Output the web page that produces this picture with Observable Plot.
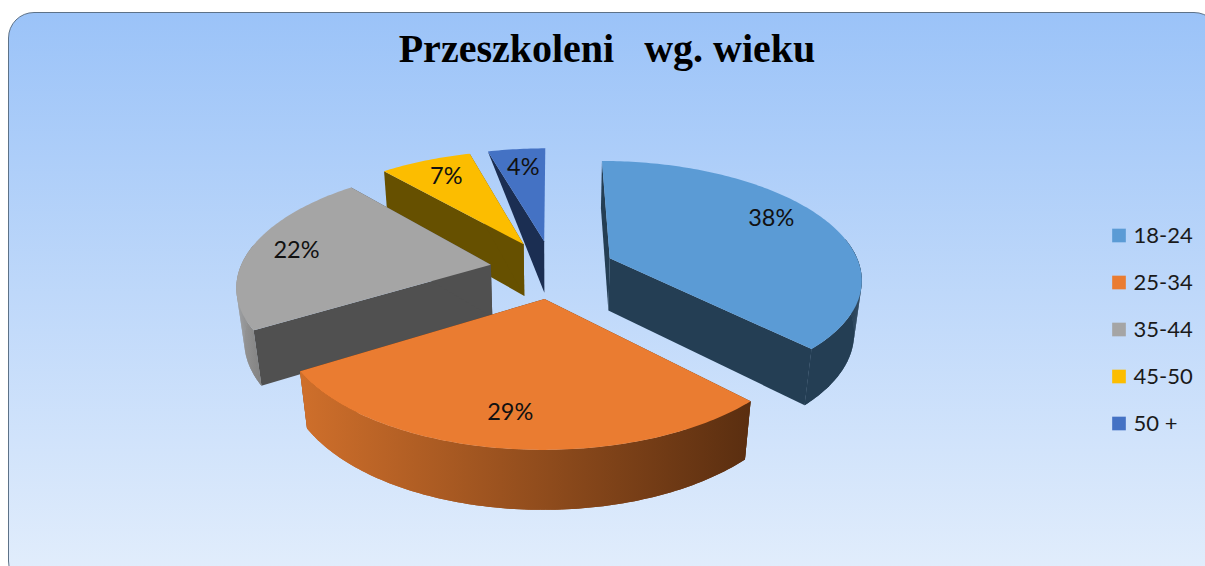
<!DOCTYPE html>
<html lang="pl">
<head>
<meta charset="utf-8">
<script src="https://cdn.jsdelivr.net/npm/d3@7"></script>
<script src="https://cdn.jsdelivr.net/npm/@observablehq/plot@0.6"></script>
<style>
html,body{margin:0;padding:0;background:#fff;overflow:hidden}
#page{position:relative;width:1205px;height:566px;overflow:hidden}
#panel{position:absolute;left:8px;top:12px;width:1212px;height:575px;box-sizing:border-box;border:1.5px solid #5d7288;border-radius:26px;
background:linear-gradient(180deg,#9bc3f8 0%,#e3eefc 100%)}
#title{position:absolute;left:0;width:1214px;top:25px;text-align:center;font:bold 40px "Liberation Serif",serif;color:#000;white-space:pre}
#chart{position:absolute;left:0;top:0}
svg{background:transparent!important}
</style>
</head>
<body>
<div id="page"><div id="panel"></div><div id="title">Przeszkoleni   wg. wieku</div><div id="chart"></div></div>
<script>
// Data
const ages = ["18-24", "25-34", "35-44", "45-50", "50 +"];
const shares = [37.7, 28.5, 22.4, 7, 4.4];
const topColors = ["#5b9bd5", "#ea7c31", "#a5a5a5", "#fcbd00", "#4472c4"];
const wallColors = ["#243e54", "#5e3010", "#505050", "#665000", "#1b2e52"];
const rimFrom = ["#243e54", "#cf6f2b", "#9a9a9a", "#665000", "#1b2e52"];
const rimTo = ["#243e54", "#5a2e10", "#828282", "#665000", "#1b2e52"];
const labelTurn = [-6, 1, 0.5, 0.5, 0.5];
const labelReach = [0.8, 0.79, 0.81, 0.78, 0.78];
const paintOrder = [4, 3, 2, 0, 1];

// Tilted pie camera
const W = 1205, H = 566;
const cam = {cx: 552, cy: 268.5, R: 251, K: 116, D: 54, p: 0.16, q: 0.025};
const explode = 0.25;
const rad = (a) => a * Math.PI / 180;
function project(X, Y, Z) {
  const s = 1 / (1 + cam.p * Y + cam.q * Z);
  return {x: cam.cx + cam.R * X * s, y: cam.cy + (-cam.K * Y + cam.D * Z) * s};
}

const total = d3.sum(shares);
let acc = 0;
const slices = shares.map((v, i) => {
  const a0 = acc / total * 360;
  acc += v;
  const a1 = acc / total * 360;
  const mid = (a0 + a1) / 2;
  return {i, v, a0, a1, mid, ox: explode * Math.sin(rad(mid)), oy: explode * Math.cos(rad(mid))};
});
const rimPoint = (s, a, Z) => project(s.ox + Math.sin(rad(a)), s.oy + Math.cos(rad(a)), Z);
const apex = (s, Z) => project(s.ox, s.oy, Z);
const sweep = (a0, a1, step) => {
  const n = Math.max(2, Math.ceil((a1 - a0) / step));
  return d3.range(n + 1).map((k) => a0 + (a1 - a0) * k / n);
};

const polys = [];
const gradients = [];
let pid = 0;
const addPoly = (pts, c) => { pid++; pts.forEach((p) => polys.push({id: pid, x: p.x, y: p.y, c})); };

for (const idx of paintOrder) {
  const s = slices[idx];
  // flat side walls; the smallest slice's wall narrows to its back corner
  const backBottom = idx === 4 ? rimPoint(s, s.a0, 0) : rimPoint(s, s.a0, 1);
  addPoly([apex(s, 0), rimPoint(s, s.a0, 0), backBottom, apex(s, 1)], wallColors[idx]);
  if (idx !== 4) addPoly([apex(s, 0), rimPoint(s, s.a1, 0), rimPoint(s, s.a1, 1), apex(s, 1)], wallColors[idx]);
  // curved outer wall: only the part that faces the viewer
  const from = Math.max(s.a0, 80), to = Math.min(s.a1, 280);
  if (to > from) {
    const as = sweep(from, to, 1);
    const pts = [...as.map((a) => rimPoint(s, a, 0)), ...as.slice().reverse().map((a) => rimPoint(s, a, 1))];
    const xs = pts.map((p) => p.x);
    const id = "rim" + idx;
    gradients.push({id, x1: d3.min(xs), x2: d3.max(xs), left: rimFrom[idx], right: rimTo[idx]});
    const fill = `url(#${id})`;
    addPoly(pts, fill);
    // small quads fill the silhouette where the two rim arcs cross
    d3.pairs(as).forEach(([a, b]) => addPoly([rimPoint(s, a, 0), rimPoint(s, b, 0), rimPoint(s, b, 1), rimPoint(s, a, 1)], fill));
  }
  // top face
  addPoly([apex(s, 0), ...sweep(s.a0, s.a1, 1).map((a) => rimPoint(s, a, 0))], topColors[idx]);
}

const pieLabels = slices.map((s) => {
  const a = s.mid + labelTurn[s.i];
  const r = labelReach[s.i];
  const p = project(s.ox + r * Math.sin(rad(a)), s.oy + r * Math.cos(rad(a)), 0);
  return {x: p.x, y: p.y, text: Math.round(s.v) + "%"};
});
const legend = ages.map((a, i) => ({x: 1118.5, tx: 1133, y: 235 + 47 * i, text: a, c: topColors[i]}));

const gradientDefs = () => {
  const defs = d3.create("svg:defs");
  for (const g of gradients) {
    const lg = defs.append("linearGradient").attr("id", g.id).attr("gradientUnits", "userSpaceOnUse")
      .attr("x1", g.x1).attr("x2", g.x2).attr("y1", 0).attr("y2", 0);
    lg.append("stop").attr("offset", 0).attr("stop-color", g.left);
    lg.append("stop").attr("offset", 1).attr("stop-color", g.right);
  }
  return defs.node();
};

const chart = Plot.plot({
  width: W, height: H,
  marginTop: 0, marginRight: 0, marginBottom: 0, marginLeft: 0,
  x: {domain: [0, W], range: [0, W], axis: null},
  y: {domain: [0, H], range: [0, H], axis: null},
  color: {type: "identity"},
  style: {background: "transparent"},
  marks: [
    gradientDefs,
    Plot.line(polys, {x: "x", y: "y", z: "id", fill: "c", stroke: "none", curve: "linear-closed"}),
    Plot.text(pieLabels, {x: "x", y: "y", text: "text", fontSize: 23.5, fontFamily: "Lato", fill: "#111"}),
    Plot.dot(legend, {x: "x", y: "y", symbol: "square", r: 7.7, fill: "c", stroke: "none"}),
    Plot.text(legend, {x: "tx", y: "y", text: "text", textAnchor: "start", fontSize: 22, fontFamily: "Lato", fill: "#1a1a1a"})
  ]
});
document.getElementById("chart").appendChild(chart);
</script>
</body>
</html>
